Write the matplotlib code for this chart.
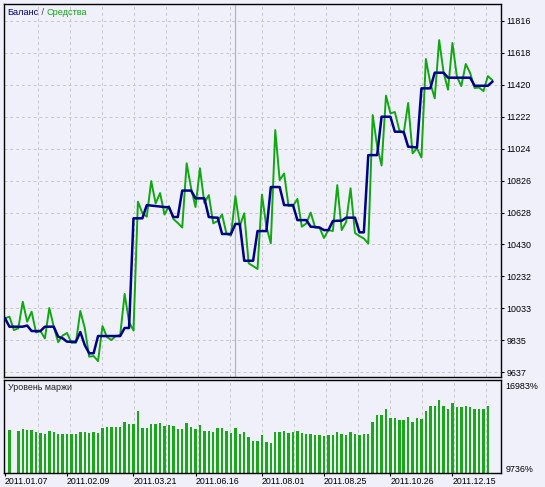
import numpy as np
import matplotlib
matplotlib.use('Agg')
import matplotlib.pyplot as plt

# balance / equity per deal
balance = [9972, 9920, 9920, 9920, 9920, 9927, 9893, 9893, 9893, 9920,
           9920, 9920, 9858, 9848, 9827, 9827, 9827, 9887, 9806, 9755,
           9755, 9862, 9862, 9862, 9862, 9862, 9862, 9912, 9912, 10592,
           10592, 10592, 10674, 10671, 10668, 10665, 10662, 10660, 10600, 10600,
           10764, 10764, 10764, 10716, 10716, 10716, 10600, 10597, 10596, 10495,
           10495, 10495, 10557, 10557, 10329, 10329, 10329, 10513, 10513, 10513,
           10786, 10786, 10786, 10674, 10674, 10674, 10581, 10581, 10581, 10540,
           10538, 10535, 10519, 10519, 10575, 10577, 10577, 10596, 10596, 10596,
           10505, 10505, 10984, 10984, 10984, 11222, 11222, 11222, 11129, 11129,
           11127, 11036, 11034, 11031, 11398, 11398, 11398, 11495, 11495, 11495,
           11464, 11464, 11464, 11464, 11464, 11464, 11414, 11414, 11414, 11414,
           11439]
equity = [9972, 9982, 9899, 9910, 10075, 9951, 10013, 9884, 9893, 9847,
          10036, 9920, 9824, 9865, 9881, 9820, 9820, 10017, 9912, 9734,
          9738, 9707, 9924, 9856, 9837, 9862, 9868, 10123, 9949, 9896,
          10695, 10625, 10602, 10823, 10684, 10749, 10615, 10668, 10588, 10563,
          10535, 10933, 10780, 10662, 10902, 10687, 10736, 10561, 10575, 10615,
          10495, 10485, 10730, 10544, 10623, 10313, 10296, 10278, 10739, 10540,
          10437, 11139, 10829, 10870, 10668, 10668, 10712, 10540, 10560, 10628,
          10535, 10534, 10470, 10519, 10513, 10798, 10519, 10569, 10778, 10501,
          10482, 10467, 10436, 11232, 11040, 10919, 11353, 11243, 11251, 11139,
          11121, 11307, 10995, 11026, 10969, 11580, 11431, 11336, 11697, 11496,
          11390, 11679, 11471, 11412, 11549, 11493, 11400, 11403, 11381, 11474,
          11449]
# margin level, %
margin = [13104, np.nan, 13023, 13184, 13050, 13104, 12942, 12807, 12726, 13023,
          12888, 12726, 12780, 12780, 12726, 12726, 12942, 12942, 12807, 12942,
          12861, 13211, 13292, 13292, 13292, 13292, 13669, 13535, 13535, 14558,
          13211, 13211, 13508, 13535, 13588, 13373, 13427, 13346, 13184, 13157,
          13588, 13292, 13130, 13427, 13023, 13023, 12888, 13211, 13211, 13023,
          12861, 13211, 12753, 12942, 12565, 12241, 12241, 12699, 12134, 12053,
          12942, 12942, 13023, 12807, 12942, 12996, 12807, 12726, 12780, 12646,
          12646, 12592, 12646, 12646, 12942, 12726, 12672, 12942, 12726, 12672,
          12726, 12726, 13669, 14235, 14208, 14720, 14019, 14019, 13831, 13831,
          14100, 13669, 13966, 13885, 14558, 14908, 14908, 15366, 14908, 14720,
          15124, 14828, 14828, 14962, 14828, 14720, 14720, 14720, 14908]
margin_min, margin_max = 9736, 16983

y_ticks = [9637, 9835, 10033, 10232, 10430, 10628, 10826, 11024, 11222, 11420, 11618, 11816]
date_idx = [0, 14, 29, 43, 58, 72, 87, 101]
date_labels = ['2011.01.07', '2011.02.09', '2011.03.21', '2011.06.16',
               '2011.08.01', '2011.08.25', '2011.10.26', '2011.12.15']
marker_idx = 52

plt.rcParams['font.family'] = ['Liberation Sans', 'DejaVu Sans']
plt.rcParams['font.size'] = 6.4

bg = '#f0f0fa'
grid_col = '#c6c6cc'
fig = plt.figure(figsize=(5.45, 4.87), dpi=100, facecolor=bg)
ax = fig.add_axes([4 / 545, 1 - 377 / 487, 497 / 545, 373 / 487], facecolor=bg)
ax2 = fig.add_axes([4 / 545, 1 - 473 / 487, 497 / 545, 93.5 / 487], facecolor=bg)

xlim = (-0.23, 111.96)
grid_x = np.arange(7.38, 111, 7.223)

# main chart
x = np.arange(len(balance))
for g in grid_x:
    ax.axvline(g, color=grid_col, lw=0.7, ls=(0, (3, 3)), zorder=0)
ax.axvline(marker_idx, color='#b4b4c0', lw=0.9, zorder=0)
ax.plot(x, equity, color='#10a810', lw=1.4, zorder=2)
ax.plot(x, balance, color='#00008b', lw=1.8, zorder=3)
ax.set_xlim(*xlim)
ax.set_ylim(9608, 11921)
ax.set_yticks(y_ticks)
ax.set_yticklabels([str(v) for v in y_ticks])
ax.yaxis.tick_right()
ax.tick_params(axis='y', length=2, width=0.8, pad=2, labelsize=6.4)
ax.set_xticks([])
ax.grid(axis='y', color=grid_col, lw=0.7, ls=(0, (3, 3)))
for s in ax.spines.values():
    s.set_color('black')
    s.set_linewidth(1)

t1 = ax.text(0.007, 0.976, 'Баланс', color='#00008b', transform=ax.transAxes,
             va='center', ha='left', fontsize=6.6)
t2 = ax.annotate(' / ', xy=(1, 0), xycoords=t1, va='bottom', ha='left',
                 color='#404060', fontsize=6.6)
ax.annotate('Средства', xy=(1, 0), xycoords=t2, va='bottom', ha='left',
            color='#10a810', fontsize=6.6)

# margin level panel
for g in grid_x:
    ax2.axvline(g, color=grid_col, lw=0.7, ls=(0, (3, 3)), zorder=0)
ax2.bar(np.arange(1, len(margin) + 1), margin, width=0.55, color='#18a818', zorder=2)
ax2.set_xlim(*xlim)
ax2.set_ylim(margin_min, margin_max)
ax2.set_yticks([])
ax2.set_xticks(date_idx)
ax2.set_xticklabels(date_labels, ha='left')
ax2.tick_params(axis='x', length=2, width=0.8, pad=0.8, labelsize=6.3)
for s in ax2.spines.values():
    s.set_color('black')
    s.set_linewidth(1)
ax2.text(0.0075, 0.91, 'Уровень маржи', transform=ax2.transAxes, va='center',
         ha='left', fontsize=6.4, color='#202020')
ax2.text(1.0094, 0.93, f'{margin_max}%', transform=ax2.transAxes, va='center',
         ha='left', fontsize=6.4)
ax2.text(1.0094, 0.035, f'{margin_min}%', transform=ax2.transAxes, va='center',
         ha='left', fontsize=6.4)

fig.savefig('out.png', dpi=100, facecolor=bg)
